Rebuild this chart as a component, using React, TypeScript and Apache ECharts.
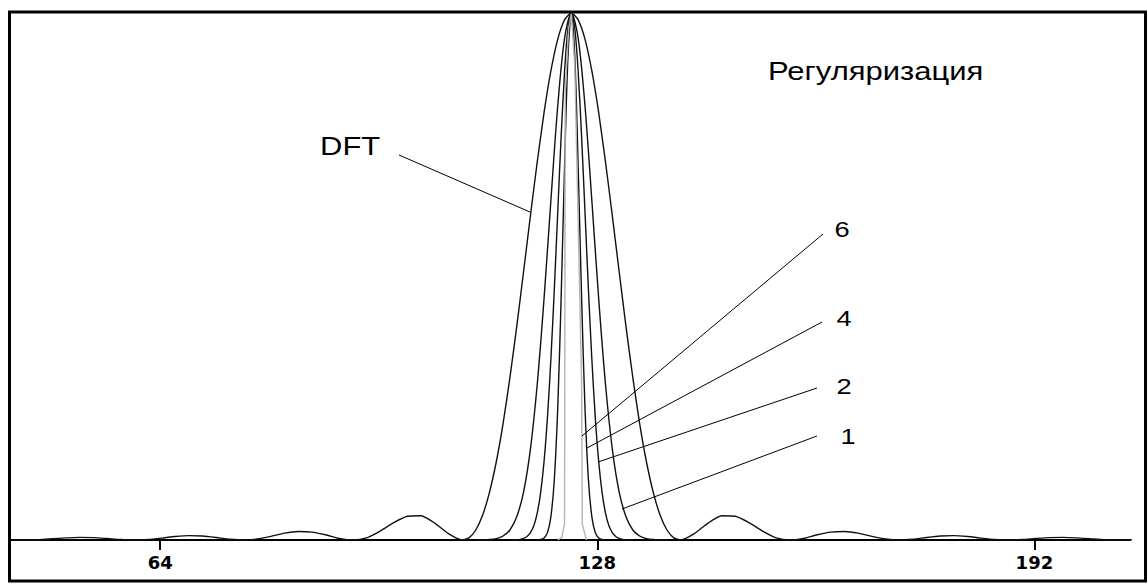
import React, { useEffect, useRef } from "react";
import * as echarts from "echarts";

// ---- axis ----
const X_MIN = 42;
const X_MAX = 206;
const TICK_VALUES = [64, 128, 192];
const PEAK_X = 124.2;

// ---- DFT (offsets from peak, relative power) ----
const DFT_OFFSETS = [
  -84, -82, -80, -78, -76, -74, -72, -70, -68, -66, -64, -62, -60, -58, -56, -54, -52, -50,
  -48, -46, -44, -42, -40, -38, -36, -34, -32, -30, -28, -26, -24, -22, -20, -18, -16,
  -15, -14, -13, -12, -11, -10, -9, -8, -7, -6, -5, -4, -3, -2, -1, 0,
  1, 2, 3, 4, 5, 6, 7, 8, 9, 10, 11, 12, 13, 14, 15,
  16, 18, 20, 22, 24, 26, 28, 30, 32, 34, 36, 38, 40, 42, 44, 46, 48, 50, 52, 54, 56, 58,
  60, 62, 64, 66, 68, 70, 72, 74, 76, 78, 80, 82, 84,
];
const DFT_VALUES = [
  0.0018, 0.0006, 0, 0.0006, 0.0023, 0.004, 0.005, 0.0045, 0.0028, 0.0009, 0, 0.001, 0.0036, 0.0066, 0.0083, 0.0076, 0.0048, 0.0015,
  0, 0.002, 0.007, 0.013, 0.016, 0.015, 0.01, 0.003, 0, 0.004, 0.017, 0.033, 0.045, 0.046, 0.032, 0.012, 0,
  0.004, 0.019, 0.047, 0.09, 0.148, 0.221, 0.308, 0.405, 0.509, 0.615, 0.717, 0.811, 0.89, 0.95, 0.987, 1,
  0.987, 0.95, 0.89, 0.811, 0.717, 0.615, 0.509, 0.405, 0.308, 0.221, 0.148, 0.09, 0.047, 0.019, 0.004,
  0, 0.012, 0.032, 0.046, 0.045, 0.033, 0.017, 0.004, 0, 0.003, 0.01, 0.015, 0.016, 0.013, 0.007, 0.002, 0, 0.0015, 0.0048, 0.0076, 0.0083, 0.0066,
  0.0036, 0.001, 0, 0.0009, 0.0028, 0.0045, 0.005, 0.004, 0.0023, 0.0006, 0, 0.0006, 0.0018,
];

// ---- regularization 1 ----
const REG1_OFFSETS = [-14, -13, -12, -11, -10, -9, -8, -7, -6, -5, -4, -3, -2, -1, 0, 1, 2, 3, 4, 5, 6, 7, 8, 9, 10, 11, 12, 13, 14];
const REG1_VALUES = [0, 0.0003, 0.0009, 0.0027, 0.0076, 0.019, 0.044, 0.091, 0.172, 0.295, 0.458, 0.644, 0.823, 0.952, 1, 0.952, 0.823, 0.644, 0.458, 0.295, 0.172, 0.091, 0.044, 0.019, 0.0076, 0.0027, 0.0009, 0.0003, 0];

// ---- regularization 2 ----
const REG2_OFFSETS = [-9, -8, -7.5, -7, -6.5, -6, -5.5, -5, -4.5, -4, -3.5, -3, -2.5, -2, -1.5, -1, -0.5, 0, 0.5, 1, 1.5, 2, 2.5, 3, 3.5, 4, 4.5, 5, 5.5, 6, 6.5, 7, 7.5, 8, 9];
const REG2_VALUES = [0, 0.0005, 0.0012, 0.003, 0.0066, 0.014, 0.027, 0.051, 0.09, 0.149, 0.233, 0.343, 0.475, 0.621, 0.765, 0.888, 0.971, 1, 0.971, 0.888, 0.765, 0.621, 0.475, 0.343, 0.233, 0.149, 0.09, 0.051, 0.027, 0.014, 0.0066, 0.003, 0.0012, 0.0005, 0];

// ---- regularization 4 ----
const REG4_OFFSETS = [-5, -4.5, -4, -3.5, -3, -2.5, -2, -1.5, -1, -0.5, 0, 0.5, 1, 1.5, 2, 2.5, 3, 3.5, 4, 4.5, 5];
const REG4_VALUES = [0, 0.001, 0.004, 0.014, 0.044, 0.114, 0.249, 0.458, 0.707, 0.917, 1, 0.917, 0.707, 0.458, 0.249, 0.114, 0.044, 0.014, 0.004, 0.001, 0];

// ---- regularization 6 (grey) ----
const REG6_OFFSETS = [-2.0, -1.4, -1.0, -0.9, -0.4, 0, 0.5, 1.0, 1.5, 1.6, 2.2];
const REG6_VALUES = [0, 0.005, 0.03, 0.85, 0.97, 1, 0.9, 0.6, 0.3, 0.03, 0];

// ---- annotation texts ----
const TITLE_TEXT = "Регуляризация";
const DFT_LABEL = "DFT";
const REG_LABELS = ["6", "4", "2", "1"];

const FONT = "'Liberation Sans', Arial, sans-serif";

function pairs(offsets: number[], values: number[]) {
  return offsets.map((d, i) => [PEAK_X + d, values[i]]);
}

export default function App() {
  const ref = useRef<HTMLDivElement>(null);

  useEffect(() => {
    if (!ref.current) return;
    const chart = echarts.init(ref.current, undefined, { renderer: "svg" });

    const lineSeries = (data: number[][], color: string, smooth: number | boolean, z: number) => ({
      type: "line",
      data,
      symbol: "none",
      showSymbol: false,
      smooth,
      silent: true,
      z,
      lineStyle: { color, width: 1.4 },
    });

    const textEl = (text: string, x: number, y: number, size: number, align: string) => ({
      type: "text",
      x,
      y,
      scaleX: 1.24,
      z: 10,
      style: {
        text,
        fill: "#000",
        font: `${size}px ${FONT}`,
        fontSize: size,
        fontFamily: FONT,
        textAlign: align,
        textVerticalAlign: "middle",
      },
    });

    const pointer = (x1: number, y1: number, x2: number, y2: number) => ({
      type: "line",
      z: 10,
      shape: { x1, y1, x2, y2 },
      style: { stroke: "#000", lineWidth: 1 },
    });

    chart.setOption({
      animation: false,
      backgroundColor: "#fff",
      grid: { left: 10, right: 18, top: 13, bottom: 44, containLabel: false },
      xAxis: {
        type: "value",
        min: X_MIN,
        max: X_MAX,
        splitLine: { show: false },
        axisLine: { show: true, onZero: false, lineStyle: { color: "#000", width: 2 } },
        axisTick: {
          show: true,
          customValues: TICK_VALUES,
          length: 10,
          lineStyle: { color: "#000", width: 2 },
        },
        axisLabel: {
          show: true,
          customValues: TICK_VALUES,
          margin: 13,
          color: "#000",
          fontFamily: "'DejaVu Sans', sans-serif",
          fontWeight: "bold",
          fontSize: 18,
        },
      },
      yAxis: { type: "value", min: 0, max: 1, show: false },
      series: [
        lineSeries(pairs(DFT_OFFSETS, DFT_VALUES), "#111", 0.2, 2),
        lineSeries(pairs(REG1_OFFSETS, REG1_VALUES), "#111", 0.3, 3),
        lineSeries(pairs(REG2_OFFSETS, REG2_VALUES), "#111", 0.3, 4),
        lineSeries(pairs(REG4_OFFSETS, REG4_VALUES), "#111", 0.3, 5),
        lineSeries(pairs(REG6_OFFSETS, REG6_VALUES), "#b4b4b4", false, 6),
      ],
      graphic: [
        {
          type: "rect",
          z: 20,
          shape: { x: 9.5, y: 12, width: 1136, height: 569 },
          style: { fill: "none", stroke: "#000", lineWidth: 3 },
        },
        textEl(TITLE_TEXT, 768, 72, 25, "left"),
        textEl(DFT_LABEL, 320, 147, 25, "left"),
        pointer(399, 155, 530, 212),
        textEl(REG_LABELS[0], 842, 229, 22, "center"),
        pointer(823, 234, 582, 436),
        textEl(REG_LABELS[1], 844, 318, 22, "center"),
        pointer(822, 322, 587, 448),
        textEl(REG_LABELS[2], 844, 386, 22, "center"),
        pointer(817, 388, 598, 462),
        textEl(REG_LABELS[3], 848, 436, 22, "center"),
        pointer(817, 436, 622, 509),
      ],
    });

    return () => chart.dispose();
  }, []);

  return (
    <div
      ref={ref}
      style={{ position: "absolute", left: 0, top: 0, width: 1148, height: 584, background: "#fff" }}
    />
  );
}
